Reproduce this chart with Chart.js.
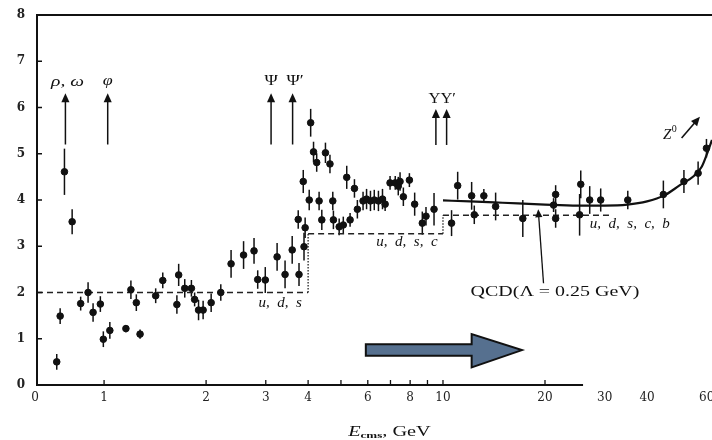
<!DOCTYPE html>
<html lang="en">
<head>
<meta charset="UTF-8">
<title>R ratio</title>
<script src="https://cdn.jsdelivr.net/npm/chart.js"></script>
<style>
  body { margin: 0; background: #fff; }
  #wrap { width: 712px; height: 440px; }
</style>
</head>
<body>
<div id="wrap"><canvas id="myChart"></canvas></div>
<script>
// measured points, E in GeV
const energy = [0.725, 0.742, 0.764, 0.805, 0.853, 0.897, 0.928, 0.975, 0.995, 1.04,
  1.16, 1.20, 1.245, 1.277, 1.42, 1.49, 1.64, 1.66, 1.73, 1.81,
  1.85, 1.90, 1.96, 2.07, 2.21, 2.37, 2.58, 2.77, 2.84, 2.99,
  3.24, 3.42, 3.59, 3.76, 3.74, 3.89, 3.92, 3.87, 4.03, 4.07,
  4.15, 4.24, 4.31, 4.39, 4.50, 4.64, 4.73, 4.75, 4.94, 5.08,
  5.20, 5.32, 5.48, 5.59, 5.81, 5.95, 6.11, 6.27, 6.45, 6.63,
  6.75, 6.98, 7.23, 7.38, 7.47, 7.64, 7.96, 8.25, 8.69, 8.91,
  9.41, 10.6, 11.05, 12.15, 12.37, 13.2, 14.3, 17.2, 21.2, 21.5,
  21.5, 25.3, 25.5, 27.1, 29.2, 35.1, 44.7, 51.4, 56.6, 59.9];
const ratio = [0.50, 1.49, 4.61, 3.53, 1.76, 2.00, 1.57, 1.75, 0.99, 1.18,
  1.22, 2.06, 1.78, 1.10, 1.93, 2.26, 1.74, 2.38, 2.09, 2.09,
  1.85, 1.62, 1.62, 1.78, 2.00, 2.62, 2.81, 2.90, 2.28, 2.27,
  2.77, 2.39, 2.92, 2.39, 3.58, 2.99, 3.40, 4.40, 4.00, 5.67,
  5.04, 4.81, 3.98, 3.57, 5.02, 4.78, 3.98, 3.57, 3.42, 3.46,
  4.49, 3.57, 4.25, 3.80, 3.98, 4.02, 3.98, 4.00, 3.98, 4.02,
  3.91, 4.37, 4.37, 4.30, 4.40, 4.07, 4.43, 3.91, 3.50, 3.65,
  3.80, 3.50, 4.31, 4.09, 3.68, 4.09, 3.86, 3.60, 3.89, 4.12,
  3.60, 3.68, 4.34, 4.00, 4.00, 4.00, 4.12, 4.40, 4.58, 5.12];
const ratioErr = [0.17, 0.17, 0.5, 0.27, 0.15, 0.22, 0.2, 0.17, 0.17, 0.18,
  0.08, 0.2, 0.18, 0.1, 0.16, 0.17, 0.2, 0.24, 0.2, 0.18,
  0.15, 0.22, 0.2, 0.2, 0.18, 0.3, 0.3, 0.28, 0.2, 0.28,
  0.3, 0.3, 0.3, 0.25, 0.2, 0.3, 0.22, 0.25, 0.22, 0.3,
  0.22, 0.2, 0.2, 0.22, 0.22, 0.2, 0.2, 0.2, 0.18, 0.18,
  0.25, 0.15, 0.2, 0.2, 0.2, 0.22, 0.22, 0.22, 0.22, 0.22,
  0.15, 0.15, 0.15, 0.2, 0.2, 0.2, 0.15, 0.25, 0.25, 0.2,
  0.35, 0.28, 0.3, 0.3, 0.2, 0.15, 0.3, 0.4, 0.15, 0.2,
  0.2, 0.45, 0.3, 0.3, 0.25, 0.2, 0.3, 0.25, 0.25, 0.2];

// quark parton model steps (u,d,s / u,d,s,c / u,d,s,c,b)
const stepE = [0.634, 4, 4, 10, 10, 31];
const stepR = [2, 2, 3.27, 3.27, 3.67, 3.67];

// QCD curve
const qcdE = [10, 12, 15, 20, 25, 30, 35, 40, 45, 50, 55, 58, 60, 62.2];
const qcdR = [3.99, 3.97, 3.94, 3.90, 3.88, 3.88, 3.90, 3.97, 4.10, 4.32, 4.52, 4.72, 4.98, 5.3];

// axis range and ticks
const xMin = 0.634, xMax = 62.2;
const xTicks = [0.634, 1, 2, 3, 4, 6, 8, 10, 20, 30, 40, 60];
const xTickLabels = ['0', '1', '2', '3', '4', '6', '8', '10', '20', '30', '40', '60'];
const xMinor = [1, 2, 3, 4, 5, 6, 7, 8, 9, 10, 20];
const yTicks = [0, 1, 2, 3, 4, 5, 6, 7, 8];

// resonances
const resonanceE = [0.769, 1.025, 3.11, 3.60, 9.53, 10.25];
const resonanceTop = [6.31, 6.31, 6.31, 6.31, 5.97, 5.97];

const serif = '"Liberation Serif", "DejaVu Serif", serif';

function arrow(ctx, x1, y1, x2, y2, size) {
  const a = Math.atan2(y2 - y1, x2 - x1);
  const c = Math.cos(a), s = Math.sin(a);
  ctx.beginPath();
  ctx.moveTo(x1, y1);
  ctx.lineTo(x2 - c * size * 0.7, y2 - s * size * 0.7);
  ctx.stroke();
  ctx.beginPath();
  ctx.moveTo(x2, y2);
  ctx.lineTo(x2 - size * c + size * 0.45 * s, y2 - size * s - size * 0.45 * c);
  ctx.lineTo(x2 - size * c - size * 0.45 * s, y2 - size * s + size * 0.45 * c);
  ctx.closePath();
  ctx.fill();
}

// text stretched sideways, like the scanned figure
function wideText(ctx, txt, px, py, sx) {
  ctx.save();
  ctx.translate(px, py);
  ctx.scale(sx, 1);
  ctx.fillText(txt, 0, 0);
  ctx.restore();
}

const frame = {
  id: 'frame',
  beforeDatasetsDraw(chart) {
    const {ctx, scales: {x, y}} = chart;
    ctx.save();
    ctx.strokeStyle = '#111';
    ctx.lineWidth = 1.5;
    energy.forEach((e, i) => {
      const px = x.getPixelForValue(e);
      ctx.beginPath();
      ctx.moveTo(px, y.getPixelForValue(ratio[i] - ratioErr[i]));
      ctx.lineTo(px, y.getPixelForValue(ratio[i] + ratioErr[i]));
      ctx.stroke();
    });
    ctx.restore();
  },
  afterDraw(chart) {
    const {ctx, chartArea: a, scales: {x, y}} = chart;
    const X = v => x.getPixelForValue(v);
    const Y = v => y.getPixelForValue(v);
    ctx.save();
    ctx.strokeStyle = '#111';
    ctx.fillStyle = '#111';

    // frame: top border and short bottom axis
    ctx.lineWidth = 2;
    ctx.beginPath();
    ctx.moveTo(a.left, a.top); ctx.lineTo(a.right, a.top);
    ctx.moveTo(a.left - 1, a.bottom); ctx.lineTo(X(25.9), a.bottom);
    ctx.stroke();

    // inner tick marks
    ctx.lineWidth = 1.3;
    ctx.beginPath();
    xMinor.forEach(v => { ctx.moveTo(X(v), a.bottom); ctx.lineTo(X(v), a.bottom - 5); });
    yTicks.slice(1, -1).forEach(v => { ctx.moveTo(a.left, Y(v)); ctx.lineTo(a.left + 5, Y(v)); });
    ctx.stroke();

    // x tick labels
    ctx.fillStyle = '#222';
    ctx.font = '12px "DejaVu Serif", serif';
    ctx.textAlign = 'center';
    ctx.textBaseline = 'middle';
    xTicks.forEach((v, i) => ctx.fillText(xTickLabels[i], X(v) - (i === 0 ? 2 : 0), a.bottom + 13));
    ctx.fillStyle = '#111';

    // resonance arrows
    ctx.lineWidth = 1.5;
    resonanceE.forEach((e, i) => {
      const from = i < 4 ? 5.2 : 5.19;
      arrow(ctx, X(e), Y(from), X(e), Y(resonanceTop[i]), 9);
    });
    ctx.font = 'italic 15px ' + serif;
    wideText(ctx, 'ρ, ω', X(0.78), Y(6.55), 1.3);
    wideText(ctx, 'φ', X(1.025), Y(6.57), 1.2);
    ctx.font = '15px ' + serif;
    wideText(ctx, 'Ψ', X(3.11), Y(6.57), 1.2);
    wideText(ctx, 'Ψ′', X(3.66), Y(6.57), 1.2);
    wideText(ctx, 'ΥΥ′', X(9.95), Y(6.18), 1.1);

    // parton model labels
    ctx.font = 'italic 15px ' + serif;
    ctx.fillText('u,  d,  s', X(3.31), Y(1.77));
    ctx.fillText('u,  d,  s,  c', X(7.83), Y(3.09));
    ctx.fillText('u,  d,  s,  c,  b', X(35.6), Y(3.48));

    // QCD label and pointer
    ctx.font = '15px ' + serif;
    wideText(ctx, 'QCD(Λ = 0.25 GeV)', X(21.4), Y(2.01), 1.33);
    ctx.lineWidth = 1.3;
    arrow(ctx, X(19.8), Y(2.2), X(19.1), Y(3.8), 8);

    // Z0
    ctx.lineWidth = 1.6;
    arrow(ctx, X(50.6), Y(5.34), X(57.3), Y(5.80), 9);
    ctx.font = 'italic 15px ' + serif;
    ctx.textAlign = 'right';
    ctx.fillText('Z', X(47.2), Y(5.40));
    ctx.font = '10px ' + serif;
    ctx.textAlign = 'left';
    ctx.fillText('0', X(47.3), Y(5.52));

    // big arrow
    const poly = [[5.92, 0.88], [12.15, 0.88], [12.15, 1.10], [17.1, 0.755],
      [12.15, 0.38], [12.15, 0.63], [5.92, 0.63]];
    ctx.beginPath();
    poly.forEach((p, i) => i ? ctx.lineTo(X(p[0]), Y(p[1])) : ctx.moveTo(X(p[0]), Y(p[1])));
    ctx.closePath();
    ctx.fillStyle = '#56708f';
    ctx.fill();
    ctx.lineWidth = 2;
    ctx.lineJoin = 'miter';
    ctx.stroke();

    // x title, stretched like the scan
    ctx.fillStyle = '#111';
    ctx.textBaseline = 'alphabetic';
    ctx.textAlign = 'left';
    ctx.translate(X(5.25), a.bottom + 51);
    ctx.scale(1.45, 1);
    ctx.font = 'italic 14px ' + serif;
    ctx.fillText('E', 0, 0);
    const w = ctx.measureText('E').width;
    ctx.font = 'bold 9px ' + serif;
    ctx.fillText('cms', w, 2);
    const w2 = ctx.measureText('cms').width;
    ctx.font = '14px ' + serif;
    ctx.fillText(', GeV', w + w2, 0);
    ctx.restore();
  }
};

const ctx = document.getElementById('myChart');
const myChart = new Chart(ctx, {
  type: 'scatter',
  data: {
    datasets: [{
      label: 'R',
      data: energy.map((e, i) => ({x: e, y: ratio[i]})),
      backgroundColor: '#111',
      borderColor: '#111',
      pointRadius: 3.3,
      pointHoverRadius: 3.3
    }, {
      type: 'line',
      label: 'QCD',
      data: qcdE.map((e, i) => ({x: e, y: qcdR[i]})),
      borderColor: '#111',
      borderWidth: 2.2,
      pointRadius: 0,
      cubicInterpolationMode: 'monotone',
      fill: false
    }, {
      type: 'line',
      label: 'parton',
      data: stepE.map((e, i) => ({x: e, y: stepR[i]})),
      borderColor: '#222',
      borderWidth: 1.3,
      pointRadius: 0,
      fill: false,
      segment: {
        borderDash: c => c.p0.parsed.x === c.p1.parsed.x ? [1.5, 1.5] : [6, 4]
      }
    }]
  },
  options: {
    responsive: true,
    maintainAspectRatio: false,
    animation: false,
    layout: { autoPadding: false, padding: { top: 15, right: 0, left: 0, bottom: 0 } },
    plugins: { legend: { display: false }, tooltip: { enabled: false } },
    scales: {
      x: {
        type: 'logarithmic',
        bounds: 'data',
        min: xMin,
        max: xMax,
        grid: { display: false, drawTicks: false },
        border: { display: false },
        ticks: { display: false },
        afterBuildTicks: s => { s.min = xMin; s.max = xMax; },
        afterFit: s => { s.height = 55; s.paddingLeft = 0; s.paddingRight = 0; }
      },
      y: {
        min: 0,
        max: 8,
        afterBuildTicks: s => { s.ticks = yTicks.map(v => ({value: v})); },
        afterFit: s => { s.width = 37; s.paddingTop = 0; s.paddingBottom = 0; },
        grid: { display: false, drawTicks: false },
        border: { display: true, color: '#111', width: 2 },
        ticks: {
          padding: 12,
          color: '#222',
          font: { family: 'DejaVu Serif', size: 12, weight: 'bold' }
        }
      }
    }
  },
  plugins: [frame]
});
</script>
</body>
</html>
